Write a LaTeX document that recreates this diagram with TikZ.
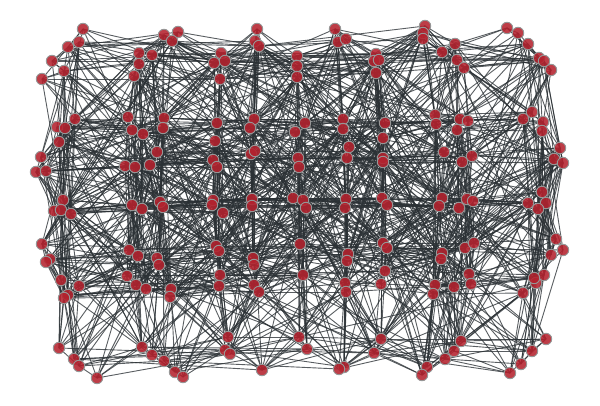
\documentclass[tikz,border=0pt]{standalone}
\usetikzlibrary{backgrounds}
\definecolor{nodefill}{RGB}{180,34,46}
\definecolor{nodeline}{RGB}{150,150,150}
\definecolor{edgecol}{RGB}{42,48,52}
\tikzset{
  vtx/.style={circle,inner sep=0pt,minimum size=11.5pt,fill=nodefill,fill opacity=0.88,draw=nodeline,line width=0.9pt,draw opacity=1},
  edge/.style={draw=edgecol,line width=0.9pt,draw opacity=0.78}
}
\newcount\gi \newcount\gj \newcount\gdx \newcount\gdy \newcount\gd
\newcount\gseed \newcount\gtmp \newcount\gr \newcount\gt
\def\XI{\csname X\the\gi\endcsname}\def\XJ{\csname X\the\gj\endcsname}
\def\YI{\csname Y\the\gi\endcsname}\def\YJ{\csname Y\the\gj\endcsname}
\def\drawedge{\edef\tmpedge{\noexpand\draw[edge] (n\the\gi.center) -- (n\the\gj.center);}\tmpedge}
\def\testpair{%
  \global\gdx=\numexpr\XI-\XJ\relax
  \ifnum\gdx<0 \global\gdx=-\gdx\fi
  \global\gdy=\numexpr\YI-\YJ\relax
  \ifnum\gdy<0 \global\gdy=-\gdy\fi
  \global\gd=\numexpr\gdx*\gdx+\gdy*\gdy\relax
  \global\gtmp=\numexpr\gseed*75+74\relax
  \global\gr=\gtmp \global\divide\gr by 65537
  \global\gseed=\numexpr\gtmp-\gr*65537\relax
  \global\gr=\numexpr\gseed*100/65537\relax
  \global\gt=0
  \ifnum\gd<67600
    \global\gt=5
    \ifnum\gdx<40 \global\gt=0 \fi
    \ifnum\gdy<40 \global\gt=0 \fi
    \ifnum\gd<28900 \global\gt=16 \fi
    \ifnum\gd<36000
      \ifnum\gdx<14 \ifnum\gt<32 \global\gt=32 \fi\fi
      \ifnum\gdy<14 \ifnum\gt<32 \global\gt=32 \fi\fi
    \fi
    \ifnum\gd<8100 \global\gt=50 \fi
  \fi
  \ifnum\gdx>60
    \ifnum\YI<45 \ifnum\YJ<45 \global\gt=0 \fi\fi
    \ifnum\YI>362 \ifnum\YJ>362 \global\gt=0 \fi\fi
  \fi
  \ifnum\gdy>60
    \ifnum\XI<60 \ifnum\XJ<60 \global\gt=0 \fi\fi
    \ifnum\XI>545 \ifnum\XJ>545 \global\gt=0 \fi\fi
  \fi
  \ifnum\gr<\gt \drawedge\fi
}
\def\edgeinner{%
  \ifnum\gj>\N\relax\else
    \testpair
    \global\advance\gj 1
    \expandafter\edgeinner
  \fi}
\def\edgeouter{%
  \ifnum\gi<\N\relax
    \global\gj=\gi \global\advance\gj 1
    \edgeinner
    \global\advance\gi 1
    \expandafter\edgeouter
  \fi}
\def\nodelist{83/29,68/47,79/42,52/61,64/71,42/79,139/53,139/64,134/76,152/55,
75/119,57/127,65/128,128/117,132/130,143/134,164/35,178/32,172/41,221/53,
214/63,225/61,220/79,257/29,255/41,259/46,297/56,297/66,297/77,164/118,
163/128,217/123,254/119,250/128,295/132,335/29,338/42,346/39,376/54,374/61,
379/60,376/73,425/26,423/33,423/39,442/52,305/123,343/119,343/129,385/123,
435/115,436/124,507/28,518/33,528/44,455/44,457/60,464/68,539/58,544/61,
551/70,532/112,523/119,543/122,542/131,460/119,468/121,457/130,
59/142,41/157,36/172,46/171,63/200,54/211,61/210,71/214,42/244,50/259,46/262,
125/166,135/167,150/165,132/205,142/209,129/250,138/256,215/141,157/152,
213/160,217/167,251/154,255/151,293/198,213/200,212/205,223/213,160/202,163/207,
252/199,252/206,216/246,219/251,157/258,159/265,253/258,254/265,300/244,298/158,
299/167,383/138,349/147,347/158,383/158,383/162,444/152,346/199,345/208,382/198,
387/205,442/198,439/206,303/200,306/208,383/243,387/248,348/254,347/261,
442/253,441/259,385/271,560/148,554/159,563/163,472/156,462/162,542/192,546/203,
528/203,538/209,467/199,473/201,459/208,556/239,563/250,551/255,465/248,474/243,
61/280,79/286,68/295,64/298,59/348,74/359,79/366,97/378,127/276,136/285,
146/289,142/347,152/355,220/275,219/286,171/289,170/297,254/285,259/292,228/337,
225/350,230/354,262/370,164/361,175/372,183/377,299/337,303/275,345/283,346/292,
381/284,435/285,433/294,307/349,381/339,374/353,344/367,339/369,427/367,422/375,
445/359,469/274,471/284,454/287,523/293,536/283,544/275,534/278,461/341,454/351,
546/339,532/351,521/364,510/373}
\begin{document}
\begin{tikzpicture}[x=1pt,y=1pt]
\useasboundingbox (0,0) rectangle (600,405);
\foreach \px/\py [count=\i] in \nodelist {
  \node[vtx] (n\i) at (\px,405-\py) {};
  \expandafter\xdef\csname X\i\endcsname{\px}
  \expandafter\xdef\csname Y\i\endcsname{\py}
  \xdef\N{\i}
}
\begin{pgfonlayer}{background}
\global\gseed=12345
\global\gi=1
\edgeouter
\end{pgfonlayer}
\end{tikzpicture}
\end{document}
